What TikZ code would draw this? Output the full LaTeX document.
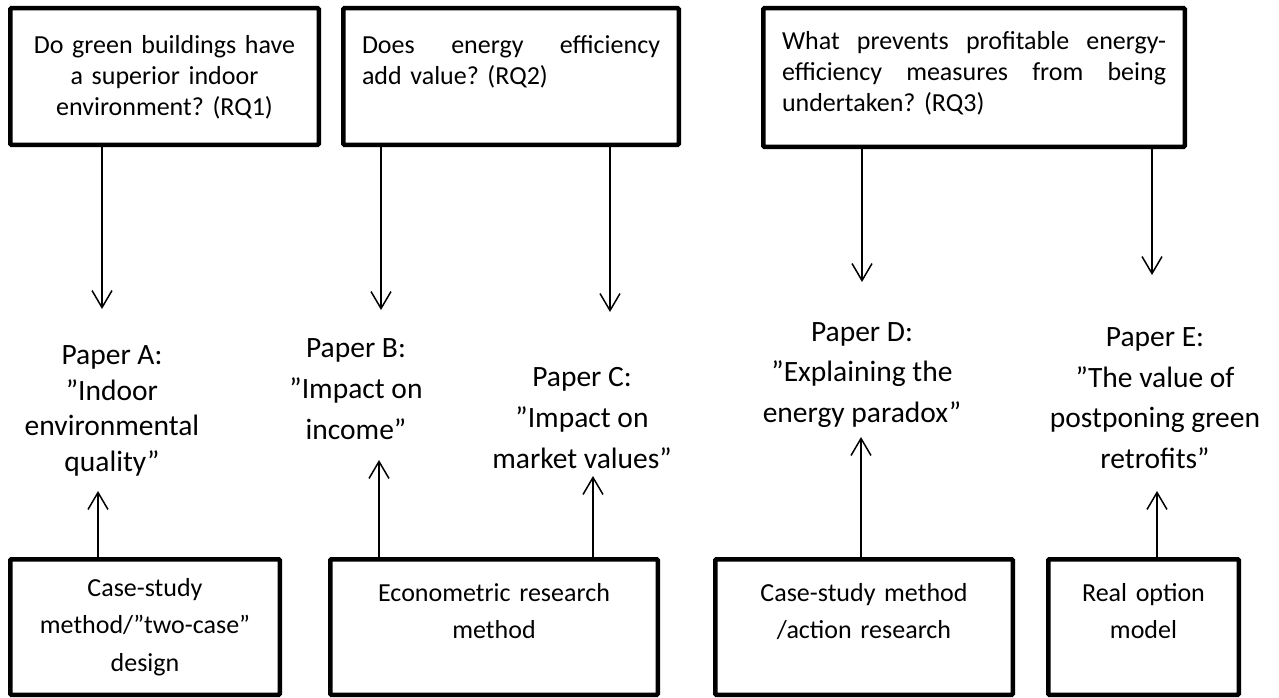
\documentclass[tikz,border=0pt]{standalone}
\usepackage{fontspec}
\setmainfont{Carlito}
\usepackage{tikz}
\usetikzlibrary{arrows.meta}
\frenchspacing
\tikzset{
    qbox/.style={
        rectangle, draw=black, line width=4.5pt, inner sep=0pt, rounded corners=1pt,
        minimum height=136.5pt, align=center,
        text height=45.75pt, text depth=90.75pt,
        font=\fontsize{26}{31}\selectfont
    },
    mbox/.style={
        rectangle, draw=black, line width=4.5pt, inner sep=0pt, rounded corners=1pt,
        minimum height=135.5pt, align=center,
        text height=41.75pt, text depth=93.75pt,
        font=\fontsize{26}{37.5}\selectfont
    },
    paper/.style={
        align=center, inner sep=0pt,
        font=\fontsize{29.5}{40.7}\selectfont
    },
    arrow/.style={
        line width=1.5pt, -{Straight Barb[length=17pt, width=20pt]}
    }
}

\begin{document}
\begin{tikzpicture}[x=1pt, y=-1pt]

    \useasboundingbox (0,0) rectangle (1279,698);
    \fill[white] (0,0) rectangle (1279,698);

    % RESEARCH QUESTIONS
    \node[qbox, minimum width=308.5pt, text width=290pt] (rq1) at (164.5,76.5) {
        Do green buildings have\\a superior indoor\\environment? (RQ1)
    };
    \node[qbox, minimum width=335.5pt, text width=298pt, align=left] (rq2) at (511,76.5) {
        \makebox[\hsize]{Does\hfill energy\hfill efficiency}\\add value? (RQ2)
    };
    \node[qbox, minimum width=421.5pt, minimum height=138.5pt, text width=384pt, align=left,
          text height=41.75pt, text depth=96.75pt] (rq3) at (974,77.5) {
        \makebox[\hsize]{What\hfill prevents\hfill profitable\hfill energy-}\\
        \makebox[\hsize]{efficiency\hfill measures\hfill from\hfill being}\\
        undertaken? (RQ3)
    };

    % PAPERS
    \node[paper, font=\fontsize{29.5}{35.5}\selectfont] (pA) at (112,411) {Paper A:\\”Indoor\\environmental\\quality”};
    \node[paper] (pB) at (356,389) {Paper B:\\”Impact on\\income”};
    \node[paper] (pC) at (582,418) {Paper C:\\”Impact on\\market values”};
    \node[paper] (pD) at (862,375) {Paper D:\\”Explaining the\\energy paradox”};
    \node[paper] (pE) at (1155,398) {Paper E:\\”The value of\\postponing green\\retrofits”};

    % METHODS
    \node[mbox, minimum width=269.5pt, text width=250pt,
          text height=36.75pt, text depth=98.75pt] (m1) at (145,627) {
        Case-study\\method/”two-case”\\design
    };
    \node[mbox, minimum width=327.5pt, text width=300pt] (m2) at (494,627) {
        Econometric research\\method
    };
    \node[mbox, minimum width=297.5pt, text width=280pt] (m3) at (864,627) {
        Case-study method\\/action research
    };
    \node[mbox, minimum width=190.5pt, text width=175pt] (m4) at (1143.5,627) {
        Real option\\model
    };

    % arrow ends
    \coordinate (dA) at (102,309);
    \coordinate (dB) at (381,310);
    \coordinate (dC) at (610,312);
    \coordinate (dD) at (862,282);
    \coordinate (dE) at (1152,275);
    \coordinate (uA) at (98,491);
    \coordinate (uB) at (379,460);
    \coordinate (uC) at (593,476);
    \coordinate (uD) at (861,437);
    \coordinate (uE) at (1157,491);

    % question -> paper
    \draw[arrow] (rq1.south -| dA) -- (dA);
    \draw[arrow] (rq2.south -| dB) -- (dB);
    \draw[arrow] (rq2.south -| dC) -- (dC);
    \draw[arrow] (rq3.south -| dD) -- (dD);
    \draw[arrow] (rq3.south -| dE) -- (dE);

    % method -> paper
    \draw[arrow] (m1.north -| uA) -- (uA);
    \draw[arrow] (m2.north -| uB) -- (uB);
    \draw[arrow] (m2.north -| uC) -- (uC);
    \draw[arrow] (m3.north -| uD) -- (uD);
    \draw[arrow] (m4.north -| uE) -- (uE);

\end{tikzpicture}
\end{document}
